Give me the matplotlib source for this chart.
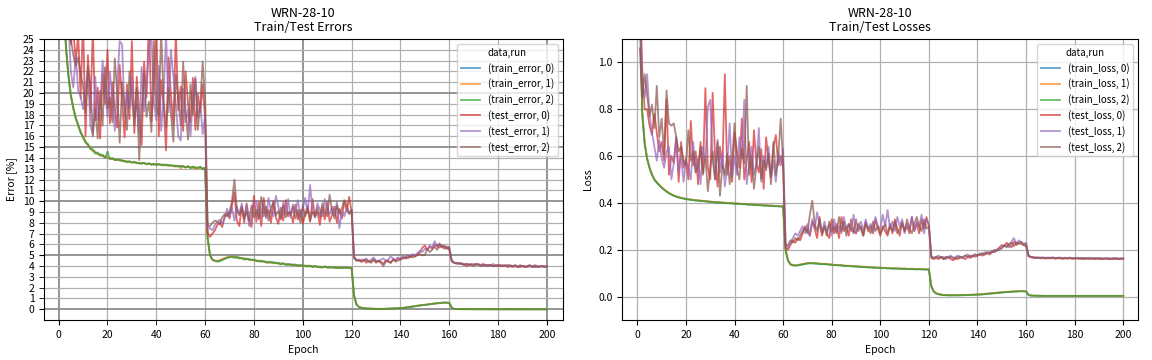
"""
WRN-28-10: ошибки и потери на train/test (3 запуска)
"""

import numpy as np
import matplotlib.pyplot as plt
from matplotlib.ticker import MultipleLocator, FormatStrFormatter

plt.rcParams["font.family"] = ["Noto Sans CJK JP", "DejaVu Sans"]
plt.rcParams["font.size"] = 7.5

# Ошибки, %  (эпохи 1..200)
train_error_0 = [
    46.0, 28.5, 24.2, 21.6, 19.8, 18.6, 17.7, 17.0, 16.4, 15.9, 15.5, 15.2, 14.9, 14.7, 14.5, 14.4, 14.3, 14.2, 14.1, 14.0,
    13.95, 13.9, 13.85, 13.8, 13.8, 13.75, 13.7, 13.65, 13.7, 13.6, 13.6, 13.55, 13.5, 13.55, 13.5, 13.45, 13.5, 13.4, 13.45, 13.4,
    13.4, 13.35, 13.4, 13.3, 13.35, 13.3, 13.25, 13.3, 13.2, 13.25, 13.2, 13.15, 13.2, 13.1, 13.15, 13.1, 13.05, 13.15, 13.0, 13.05,
    6.6, 5.0, 4.6, 4.5, 4.45, 4.5, 4.6, 4.7, 4.8, 4.85, 4.9, 4.85, 4.8, 4.8, 4.7, 4.7, 4.65, 4.6, 4.6, 4.55,
    4.5, 4.45, 4.5, 4.4, 4.35, 4.4, 4.3, 4.35, 4.3, 4.25, 4.2, 4.25, 4.15, 4.2, 4.1, 4.15, 4.1, 4.05, 4.1, 4.0,
    4.05, 4.0, 4.0, 3.95, 4.0, 3.9, 3.95, 3.9, 3.95, 3.85, 3.9, 3.85, 3.9, 3.85, 3.8, 3.85, 3.9, 3.85, 3.8, 3.85,
    1.3, 0.45, 0.22, 0.14, 0.1, 0.08, 0.06, 0.05, 0.05, 0.04, 0.04, 0.03, 0.04, 0.04, 0.05, 0.06, 0.07, 0.08, 0.1, 0.11,
    0.13, 0.15, 0.18, 0.22, 0.26, 0.3, 0.33, 0.36, 0.38, 0.4, 0.44, 0.47, 0.5, 0.53, 0.55, 0.58, 0.6, 0.62, 0.61, 0.6,
    0.15, 0.04, 0.02, 0.02, 0.01, 0.01, 0.01, 0.01, 0.01, 0.01, 0.01, 0.0, 0.01, 0.0, 0.0, 0.0, 0.0, 0.0, 0.0, 0.0,
    0.0, 0.0, 0.0, 0.0, 0.0, 0.0, 0.0, 0.0, 0.0, 0.0, 0.0, 0.0, 0.0, 0.0, 0.0, 0.0, 0.0, 0.0, 0.0, 0.0,
]
train_error_1 = [
    45.5, 28.8, 24.0, 21.8, 19.9, 18.5, 17.8, 16.9, 16.5, 15.8, 15.6, 15.1, 15.0, 14.6, 14.6, 14.3, 14.35, 14.15, 14.1, 14.05,
    13.9, 13.95, 13.8, 13.85, 13.75, 13.8, 13.65, 13.7, 13.6, 13.65, 13.55, 13.6, 13.45, 13.5, 13.55, 13.4, 13.45, 13.45, 13.35, 13.4,
    13.45, 13.3, 13.35, 13.35, 13.25, 13.35, 13.2, 13.25, 13.3, 13.0, 13.25, 13.1, 13.2, 13.15, 13.05, 13.2, 13.0, 13.1, 13.05, 13.0,
    6.5, 5.0, 4.55, 4.45, 4.5, 4.55, 4.65, 4.75, 4.8, 4.9, 4.85, 4.9, 4.75, 4.75, 4.75, 4.65, 4.7, 4.55, 4.6, 4.5,
    4.55, 4.4, 4.45, 4.45, 4.3, 4.35, 4.35, 4.25, 4.3, 4.2, 4.25, 4.2, 4.2, 4.1, 4.15, 4.1, 4.05, 4.1, 4.0, 4.05,
    4.0, 4.05, 3.95, 4.0, 3.95, 3.95, 3.85, 3.95, 3.9, 3.9, 3.85, 3.9, 3.8, 3.9, 3.85, 3.8, 3.85, 3.9, 3.85, 3.8,
    1.35, 0.48, 0.23, 0.15, 0.11, 0.08, 0.07, 0.05, 0.04, 0.05, 0.04, 0.04, 0.03, 0.05, 0.05, 0.06, 0.08, 0.09, 0.1, 0.12,
    0.14, 0.16, 0.19, 0.23, 0.27, 0.29, 0.34, 0.37, 0.39, 0.42, 0.45, 0.46, 0.51, 0.54, 0.57, 0.59, 0.61, 0.63, 0.6, 0.59,
    0.16, 0.04, 0.02, 0.01, 0.01, 0.01, 0.01, 0.01, 0.0, 0.01, 0.0, 0.01, 0.0, 0.0, 0.0, 0.0, 0.0, 0.0, 0.0, 0.0,
    0.0, 0.0, 0.0, 0.0, 0.0, 0.0, 0.0, 0.0, 0.0, 0.0, 0.0, 0.0, 0.0, 0.0, 0.0, 0.0, 0.0, 0.0, 0.0, 0.0,
]
train_error_2 = [
    46.5, 28.2, 24.4, 21.5, 19.7, 18.7, 17.6, 17.1, 16.3, 16.0, 15.4, 15.3, 14.8, 14.8, 14.4, 14.5, 14.2, 14.3, 14.0, 14.6,
    13.9, 14.0, 13.8, 13.85, 13.85, 13.7, 13.75, 13.6, 13.65, 13.55, 13.65, 13.5, 13.55, 13.45, 13.55, 13.4, 13.5, 13.35, 13.45, 13.35,
    13.4, 13.4, 13.3, 13.4, 13.3, 13.3, 13.3, 13.2, 13.25, 13.2, 13.25, 13.1, 13.25, 13.05, 13.2, 13.05, 13.1, 13.2, 12.95, 13.1,
    6.7, 5.05, 4.6, 4.5, 4.4, 4.45, 4.55, 4.65, 4.75, 4.8, 4.85, 4.75, 4.85, 4.7, 4.75, 4.6, 4.65, 4.65, 4.55, 4.6,
    4.45, 4.5, 4.4, 4.45, 4.4, 4.3, 4.4, 4.3, 4.25, 4.3, 4.15, 4.25, 4.1, 4.15, 4.15, 4.05, 4.15, 4.0, 4.05, 4.05,
    4.0, 3.95, 4.05, 3.9, 4.0, 3.95, 3.9, 3.85, 3.95, 3.9, 3.85, 3.9, 3.85, 3.8, 3.9, 3.85, 3.8, 3.85, 3.85, 3.8,
    1.25, 0.44, 0.21, 0.14, 0.1, 0.07, 0.06, 0.05, 0.04, 0.04, 0.03, 0.04, 0.04, 0.04, 0.05, 0.06, 0.07, 0.08, 0.09, 0.11,
    0.12, 0.15, 0.17, 0.21, 0.25, 0.29, 0.32, 0.35, 0.38, 0.41, 0.43, 0.48, 0.49, 0.52, 0.56, 0.57, 0.6, 0.61, 0.62, 0.61,
    0.14, 0.03, 0.02, 0.01, 0.01, 0.01, 0.01, 0.0, 0.01, 0.0, 0.0, 0.0, 0.0, 0.0, 0.0, 0.0, 0.0, 0.0, 0.0, 0.0,
    0.0, 0.0, 0.0, 0.0, 0.0, 0.0, 0.0, 0.0, 0.0, 0.0, 0.0, 0.0, 0.0, 0.0, 0.0, 0.0, 0.0, 0.0, 0.0, 0.0,
]
test_error_0 = [
    70.0, 45.0, 32.0, 27.0, 24.5, 26.0, 22.8, 25.5, 19.5, 27.0, 16.0, 23.5, 18.2, 26.0, 17.5, 20.5, 15.8, 21.8, 19.0, 24.0,
    17.2, 21.0, 18.5, 16.8, 22.6, 19.2, 15.9, 20.8, 17.6, 24.8, 16.3, 21.5, 18.0, 15.2, 22.9, 19.6, 27.0, 17.4, 20.3, 26.5,
    16.0, 21.2, 18.9, 14.7, 23.3, 19.8, 17.1, 25.6, 18.4, 20.6, 16.5, 22.0, 19.0, 17.3, 21.4, 16.6, 19.9, 18.2, 20.8, 17.6,
    7.1, 6.7, 7.0, 7.3, 7.8, 8.0, 7.6, 8.6, 8.9, 8.4, 9.6, 10.8, 8.2, 7.7, 9.5, 8.0, 9.8, 8.3, 7.6, 10.5,
    8.1, 9.9, 7.7, 10.3, 8.6, 9.2, 8.0, 10.0, 8.5, 7.9, 9.4, 8.2, 10.1, 8.6, 9.0, 8.0, 9.7, 8.3, 9.2, 7.9,
    8.8, 9.6, 8.1, 10.2, 8.5, 9.0, 7.8, 9.4, 8.3, 9.9, 8.1, 8.7, 9.5, 8.0, 9.3, 8.4, 10.0, 9.1, 10.4, 9.0,
    4.9, 4.5, 4.5, 4.4, 4.6, 4.3, 4.5, 4.4, 4.6, 4.3, 4.5, 4.4, 4.2, 4.5, 4.4, 4.3, 4.6, 4.5, 4.7, 4.6,
    4.8, 4.7, 4.9, 4.8, 5.0, 4.9, 5.1, 5.3, 5.7, 5.9, 5.5, 5.8, 5.6, 5.9, 6.0, 5.7, 5.9, 5.6, 5.8, 5.5,
    4.5, 4.3, 4.3, 4.2, 4.2, 4.2, 4.0, 4.1, 4.2, 4.1, 4.2, 4.1, 4.1, 4.2, 4.0, 4.1, 4.1, 4.0, 4.1, 4.0,
    4.1, 4.0, 4.0, 4.1, 4.0, 3.9, 4.0, 4.0, 3.9, 4.0, 4.0, 3.9, 4.0, 4.0, 3.9, 4.0, 3.9, 4.0, 3.9, 4.0,
]
test_error_1 = [
    68.0, 42.0, 30.0, 26.5, 22.0, 20.5, 23.5, 20.2, 19.7, 18.5, 20.5, 22.0, 17.0, 16.2, 21.5, 17.5, 18.8, 23.0, 20.4, 17.8,
    22.0, 19.5, 16.5, 20.8, 24.8, 24.5, 17.8, 20.2, 18.6, 21.5, 17.9, 19.0, 16.2, 22.4, 18.3, 20.6, 24.0, 25.5, 19.2, 17.5,
    22.5, 16.5, 19.8, 25.6, 18.2, 24.0, 21.5, 19.0, 16.0, 15.6, 20.4, 17.3, 18.5, 16.0, 19.5, 21.5, 17.8, 19.0, 16.2, 18.0,
    7.6, 7.5, 7.3, 7.8, 8.1, 8.3, 7.9, 8.4, 9.3, 8.6, 9.4, 8.2, 9.5, 8.8, 9.8, 8.5, 9.6, 7.7, 8.6, 9.9,
    10.0, 8.3, 9.0, 9.8, 8.4, 10.3, 9.1, 8.6, 10.5, 9.5, 8.4, 9.9, 8.8, 10.2, 8.5, 9.7, 9.0, 10.1, 8.6, 9.3,
    10.3, 8.9, 11.5, 9.0, 8.5, 9.8, 9.2, 8.6, 10.2, 9.1, 8.8, 9.5, 8.7, 9.9, 7.5, 9.0, 8.6, 9.3, 8.9, 9.2,
    4.8, 4.6, 4.5, 4.6, 4.5, 4.7, 4.4, 4.6, 4.8, 4.5, 4.4, 4.6, 4.7, 4.5, 4.6, 4.9, 4.7, 4.6, 4.8, 4.7,
    4.9, 4.8, 5.0, 4.9, 5.1, 5.0, 5.2, 5.4, 5.3, 5.6, 5.5, 5.9, 5.7, 6.3, 5.8, 6.0, 5.7, 5.8, 5.6, 5.7,
    4.6, 4.3, 4.3, 4.2, 4.3, 4.1, 4.2, 4.2, 4.1, 4.2, 4.1, 4.2, 4.1, 4.0, 4.1, 4.1, 4.0, 4.2, 4.0, 4.1,
    4.0, 4.1, 4.0, 4.0, 4.1, 4.0, 4.0, 3.9, 4.1, 4.0, 3.9, 4.0, 4.0, 3.9, 4.1, 4.0, 3.9, 4.0, 4.0, 3.9,
]
test_error_2 = [
    72.0, 47.0, 33.0, 28.0, 25.0, 23.5, 22.5, 23.3, 21.8, 20.6, 18.2, 22.5, 20.8, 16.0, 18.5, 15.8, 20.2, 17.0, 22.4, 18.6,
    19.6, 17.3, 23.2, 20.0, 15.4, 21.0, 18.7, 16.6, 22.0, 19.4, 17.1, 20.5, 13.8, 18.5, 21.8, 17.8, 19.2, 16.4, 24.8, 18.6,
    17.9, 25.8, 19.3, 16.8, 20.5, 18.1, 15.5, 21.7, 19.5, 17.0, 22.9, 18.4, 15.7, 20.8, 18.0, 21.3, 16.6, 19.0, 22.9, 19.5,
    7.8, 7.7, 8.0, 8.2, 8.1, 7.9, 8.5, 8.8, 8.6, 9.0, 10.0, 12.0, 9.2, 8.7, 9.4, 8.4, 9.0, 8.2, 9.6, 8.5,
    9.2, 8.4, 10.4, 8.6, 9.5, 8.2, 9.4, 9.9, 8.7, 9.1, 8.3, 9.6, 8.5, 9.0, 8.8, 9.5, 8.4, 9.2, 8.0, 9.6,
    8.6, 9.3, 8.2, 9.0, 8.7, 9.4, 8.5, 9.8, 9.0, 8.6, 10.6, 9.1, 8.4, 9.6, 8.9, 9.3, 10.1, 9.7, 8.8, 9.2,
    4.7, 4.5, 4.6, 4.4, 4.5, 4.6, 4.4, 4.3, 4.6, 4.4, 4.5, 4.3, 4.0, 4.4, 4.5, 4.3, 4.6, 4.4, 4.5, 4.6,
    4.7, 4.8, 4.7, 4.9, 4.8, 4.9, 5.0, 5.1, 5.0, 5.0, 5.6, 5.3, 5.5, 5.8, 5.5, 6.1, 5.8, 5.9, 5.6, 5.8,
    4.4, 4.3, 4.2, 4.3, 4.2, 4.1, 4.2, 4.1, 4.1, 4.0, 4.2, 4.1, 4.0, 4.1, 4.1, 4.0, 4.1, 4.0, 4.0, 4.1,
    4.0, 4.0, 4.1, 3.9, 4.0, 4.0, 4.1, 3.9, 4.0, 4.0, 3.9, 4.0, 4.1, 3.9, 4.0, 3.9, 4.0, 4.0, 3.9, 4.0,
]

# Потери (эпохи 1..200)
train_loss_0 = [
    1.25, 0.78, 0.655, 0.59, 0.55, 0.52, 0.50, 0.487, 0.476, 0.466, 0.457, 0.449, 0.442, 0.436, 0.431, 0.427, 0.424, 0.421, 0.419, 0.417,
    0.415, 0.414, 0.412, 0.411, 0.410, 0.409, 0.408, 0.407, 0.406, 0.405, 0.404, 0.403, 0.402, 0.402, 0.401, 0.400, 0.399, 0.399, 0.398, 0.397,
    0.397, 0.396, 0.395, 0.395, 0.394, 0.393, 0.393, 0.392, 0.391, 0.391, 0.390, 0.389, 0.389, 0.388, 0.388, 0.387, 0.386, 0.386, 0.385, 0.385,
    0.20, 0.155, 0.138, 0.134, 0.133, 0.134, 0.136, 0.138, 0.140, 0.142, 0.143, 0.142, 0.142, 0.141, 0.140, 0.139, 0.139, 0.138, 0.137, 0.136,
    0.135, 0.134, 0.134, 0.133, 0.132, 0.131, 0.131, 0.130, 0.129, 0.129, 0.128, 0.127, 0.127, 0.126, 0.125, 0.125, 0.124, 0.124, 0.123, 0.123,
    0.122, 0.122, 0.121, 0.121, 0.120, 0.120, 0.120, 0.119, 0.119, 0.119, 0.118, 0.118, 0.118, 0.117, 0.117, 0.117, 0.117, 0.116, 0.116, 0.116,
    0.045, 0.022, 0.014, 0.010, 0.008, 0.007, 0.006, 0.006, 0.006, 0.006, 0.006, 0.006, 0.006, 0.006, 0.007, 0.007, 0.007, 0.008, 0.008, 0.009,
    0.009, 0.010, 0.011, 0.012, 0.013, 0.014, 0.015, 0.016, 0.017, 0.018, 0.019, 0.020, 0.020, 0.021, 0.022, 0.022, 0.023, 0.023, 0.023, 0.022,
    0.008, 0.005, 0.004, 0.004, 0.004, 0.003, 0.003, 0.003, 0.003, 0.003, 0.003, 0.003, 0.003, 0.003, 0.003, 0.003, 0.003, 0.003, 0.003, 0.003,
    0.003, 0.003, 0.003, 0.003, 0.003, 0.003, 0.003, 0.003, 0.003, 0.003, 0.003, 0.003, 0.003, 0.003, 0.003, 0.003, 0.003, 0.003, 0.003, 0.003,
]
train_loss_1 = [
    1.24, 0.79, 0.66, 0.592, 0.552, 0.522, 0.501, 0.489, 0.477, 0.467, 0.458, 0.450, 0.443, 0.437, 0.432, 0.428, 0.425, 0.422, 0.420, 0.418,
    0.416, 0.415, 0.413, 0.412, 0.411, 0.410, 0.409, 0.408, 0.407, 0.406, 0.405, 0.404, 0.403, 0.403, 0.402, 0.401, 0.400, 0.400, 0.399, 0.398,
    0.398, 0.397, 0.396, 0.396, 0.395, 0.394, 0.394, 0.393, 0.392, 0.392, 0.391, 0.390, 0.390, 0.389, 0.389, 0.388, 0.387, 0.387, 0.386, 0.386,
    0.205, 0.157, 0.139, 0.135, 0.134, 0.135, 0.137, 0.139, 0.141, 0.143, 0.144, 0.143, 0.143, 0.142, 0.141, 0.140, 0.140, 0.139, 0.138, 0.137,
    0.136, 0.135, 0.135, 0.134, 0.133, 0.132, 0.132, 0.131, 0.130, 0.130, 0.129, 0.128, 0.128, 0.127, 0.126, 0.126, 0.125, 0.125, 0.124, 0.124,
    0.123, 0.123, 0.122, 0.122, 0.121, 0.121, 0.121, 0.120, 0.120, 0.120, 0.119, 0.119, 0.119, 0.118, 0.118, 0.118, 0.118, 0.117, 0.117, 0.117,
    0.047, 0.023, 0.015, 0.011, 0.009, 0.007, 0.007, 0.006, 0.006, 0.006, 0.006, 0.006, 0.006, 0.007, 0.007, 0.007, 0.008, 0.008, 0.009, 0.009,
    0.010, 0.011, 0.012, 0.013, 0.014, 0.015, 0.016, 0.017, 0.018, 0.019, 0.019, 0.020, 0.021, 0.022, 0.022, 0.023, 0.023, 0.024, 0.023, 0.022,
    0.009, 0.005, 0.004, 0.004, 0.004, 0.004, 0.003, 0.003, 0.003, 0.003, 0.003, 0.003, 0.003, 0.003, 0.003, 0.003, 0.003, 0.003, 0.003, 0.003,
    0.003, 0.003, 0.003, 0.003, 0.003, 0.003, 0.003, 0.003, 0.003, 0.003, 0.003, 0.003, 0.003, 0.003, 0.003, 0.003, 0.003, 0.003, 0.003, 0.003,
]
train_loss_2 = [
    1.26, 0.785, 0.65, 0.588, 0.549, 0.521, 0.499, 0.486, 0.475, 0.465, 0.456, 0.448, 0.441, 0.436, 0.430, 0.427, 0.423, 0.421, 0.418, 0.416,
    0.415, 0.413, 0.412, 0.410, 0.410, 0.408, 0.408, 0.406, 0.406, 0.404, 0.404, 0.402, 0.402, 0.401, 0.401, 0.399, 0.399, 0.398, 0.398, 0.396,
    0.397, 0.395, 0.395, 0.394, 0.394, 0.392, 0.393, 0.391, 0.391, 0.390, 0.390, 0.388, 0.389, 0.387, 0.388, 0.386, 0.386, 0.385, 0.385, 0.384,
    0.195, 0.153, 0.137, 0.133, 0.132, 0.133, 0.135, 0.137, 0.139, 0.141, 0.142, 0.142, 0.141, 0.141, 0.139, 0.139, 0.138, 0.138, 0.136, 0.136,
    0.134, 0.134, 0.133, 0.133, 0.131, 0.131, 0.130, 0.130, 0.128, 0.129, 0.127, 0.127, 0.126, 0.126, 0.124, 0.125, 0.123, 0.124, 0.122, 0.123,
    0.121, 0.122, 0.120, 0.121, 0.119, 0.120, 0.119, 0.119, 0.118, 0.119, 0.117, 0.118, 0.117, 0.117, 0.116, 0.117, 0.116, 0.116, 0.115, 0.116,
    0.043, 0.021, 0.013, 0.010, 0.008, 0.006, 0.006, 0.005, 0.005, 0.005, 0.005, 0.005, 0.006, 0.006, 0.006, 0.007, 0.007, 0.007, 0.008, 0.008,
    0.009, 0.009, 0.010, 0.011, 0.012, 0.013, 0.014, 0.015, 0.016, 0.017, 0.018, 0.019, 0.020, 0.020, 0.021, 0.022, 0.022, 0.023, 0.022, 0.022,
    0.007, 0.004, 0.004, 0.003, 0.003, 0.003, 0.003, 0.003, 0.003, 0.003, 0.003, 0.003, 0.003, 0.003, 0.003, 0.003, 0.003, 0.003, 0.003, 0.003,
    0.003, 0.003, 0.003, 0.003, 0.003, 0.003, 0.003, 0.003, 0.003, 0.003, 0.003, 0.003, 0.003, 0.003, 0.003, 0.003, 0.003, 0.003, 0.003, 0.003,
]
test_loss_0 = [
    1.35, 0.97, 0.80, 0.80, 0.73, 0.69, 0.78, 0.70, 0.62, 0.66, 0.58, 0.84, 0.52, 0.60, 0.57, 0.68, 0.49, 0.66, 0.55, 0.59,
    0.50, 0.75, 0.56, 0.62, 0.48, 0.66, 0.53, 0.89, 0.55, 0.50, 0.87, 0.59, 0.47, 0.64, 0.55, 0.95, 0.52, 0.60, 0.49, 0.70,
    0.62, 0.55, 0.76, 0.50, 0.58, 0.66, 0.49, 0.71, 0.57, 0.53, 0.63, 0.46, 0.68, 0.58, 0.51, 0.64, 0.69, 0.56, 0.60, 0.55,
    0.21, 0.20, 0.22, 0.24, 0.23, 0.25, 0.24, 0.27, 0.30, 0.28, 0.26, 0.32, 0.29, 0.25, 0.34, 0.26, 0.30, 0.27, 0.25, 0.33,
    0.27, 0.31, 0.25, 0.34, 0.28, 0.30, 0.26, 0.33, 0.28, 0.27, 0.31, 0.29, 0.26, 0.32, 0.28, 0.30, 0.27, 0.33, 0.29, 0.26,
    0.30, 0.28, 0.26, 0.31, 0.27, 0.33, 0.29, 0.26, 0.32, 0.28, 0.30, 0.27, 0.34, 0.28, 0.31, 0.27, 0.33, 0.29, 0.34, 0.30,
    0.165, 0.16, 0.165, 0.16, 0.17, 0.16, 0.165, 0.17, 0.16, 0.155, 0.165, 0.16, 0.17, 0.165, 0.16, 0.17, 0.165, 0.175, 0.17, 0.175,
    0.18, 0.175, 0.18, 0.185, 0.18, 0.19, 0.19, 0.20, 0.21, 0.22, 0.215, 0.23, 0.22, 0.21, 0.235, 0.22, 0.23, 0.225, 0.22, 0.215,
    0.172, 0.168, 0.166, 0.164, 0.166, 0.163, 0.165, 0.162, 0.164, 0.163, 0.165, 0.162, 0.163, 0.164, 0.161, 0.163, 0.162, 0.164, 0.161, 0.162,
    0.163, 0.161, 0.162, 0.160, 0.162, 0.161, 0.163, 0.160, 0.161, 0.162, 0.160, 0.161, 0.162, 0.160, 0.161, 0.160, 0.162, 0.160, 0.161, 0.160,
]
test_loss_1 = [
    1.25, 0.92, 0.85, 0.95, 0.78, 0.70, 0.64, 0.58, 0.67, 0.59, 0.55, 0.62, 0.64, 0.50, 0.57, 0.68, 0.53, 0.60, 0.49, 0.58,
    0.55, 0.50, 0.66, 0.53, 0.59, 0.48, 0.64, 0.57, 0.81, 0.84, 0.58, 0.50, 0.67, 0.53, 0.62, 0.47, 0.56, 0.74, 0.51, 0.60,
    0.52, 0.68, 0.59, 0.84, 0.48, 0.56, 0.64, 0.52, 0.57, 0.72, 0.49, 0.60, 0.55, 0.64, 0.51, 0.58, 0.49, 0.62, 0.56, 0.63,
    0.22, 0.21, 0.23, 0.25, 0.27, 0.26, 0.28, 0.30, 0.27, 0.31, 0.26, 0.33, 0.29, 0.36, 0.30, 0.27, 0.32, 0.28, 0.31, 0.26,
    0.33, 0.28, 0.30, 0.27, 0.34, 0.29, 0.31, 0.28, 0.35, 0.27, 0.30, 0.32, 0.28, 0.33, 0.29, 0.31, 0.28, 0.34, 0.30, 0.29,
    0.35, 0.30, 0.37, 0.29, 0.32, 0.28, 0.34, 0.30, 0.33, 0.27, 0.31, 0.29, 0.34, 0.28, 0.32, 0.30, 0.35, 0.27, 0.33, 0.31,
    0.17, 0.165, 0.17, 0.175, 0.165, 0.17, 0.16, 0.17, 0.175, 0.165, 0.17, 0.175, 0.17, 0.165, 0.175, 0.18, 0.17, 0.175, 0.18, 0.175,
    0.185, 0.18, 0.19, 0.185, 0.19, 0.195, 0.19, 0.20, 0.205, 0.21, 0.215, 0.22, 0.21, 0.235, 0.25, 0.225, 0.24, 0.23, 0.225, 0.23,
    0.176, 0.170, 0.169, 0.167, 0.168, 0.166, 0.168, 0.165, 0.167, 0.166, 0.168, 0.165, 0.166, 0.167, 0.165, 0.166, 0.165, 0.167, 0.164, 0.165,
    0.166, 0.164, 0.166, 0.165, 0.164, 0.166, 0.164, 0.165, 0.163, 0.165, 0.164, 0.163, 0.165, 0.164, 0.163, 0.164, 0.165, 0.163, 0.164, 0.164,
]
test_loss_2 = [
    1.06, 0.85, 0.95, 0.86, 0.77, 0.82, 0.72, 0.90, 0.68, 0.76, 0.61, 0.88, 0.74, 0.73, 0.74, 0.68, 0.62, 0.64, 0.58, 0.56,
    0.71, 0.58, 0.62, 0.53, 0.56, 0.64, 0.52, 0.60, 0.45, 0.55, 0.62, 0.50, 0.66, 0.43, 0.56, 0.52, 0.61, 0.48, 0.58, 0.74,
    0.55, 0.50, 0.63, 0.57, 0.90, 0.52, 0.60, 0.46, 0.56, 0.64, 0.50, 0.58, 0.54, 0.61, 0.48, 0.66, 0.52, 0.60, 0.76, 0.57,
    0.22, 0.22, 0.24, 0.23, 0.25, 0.24, 0.26, 0.28, 0.29, 0.27, 0.35, 0.41, 0.31, 0.28, 0.33, 0.27, 0.30, 0.26, 0.32, 0.28,
    0.30, 0.27, 0.34, 0.28, 0.32, 0.26, 0.31, 0.29, 0.27, 0.33, 0.28, 0.30, 0.26, 0.31, 0.29, 0.27, 0.32, 0.28, 0.30, 0.27,
    0.29, 0.31, 0.27, 0.30, 0.28, 0.32, 0.27, 0.29, 0.31, 0.28, 0.33, 0.29, 0.27, 0.31, 0.34, 0.30, 0.28, 0.33, 0.29, 0.30,
    0.17, 0.165, 0.17, 0.165, 0.17, 0.16, 0.17, 0.165, 0.17, 0.165, 0.16, 0.17, 0.165, 0.17, 0.175, 0.17, 0.175, 0.17, 0.18, 0.175,
    0.18, 0.185, 0.18, 0.19, 0.185, 0.19, 0.20, 0.195, 0.20, 0.205, 0.22, 0.21, 0.225, 0.23, 0.215, 0.23, 0.225, 0.235, 0.22, 0.225,
    0.174, 0.169, 0.167, 0.166, 0.165, 0.166, 0.164, 0.166, 0.165, 0.164, 0.165, 0.163, 0.165, 0.164, 0.163, 0.165, 0.163, 0.164, 0.163, 0.164,
    0.163, 0.164, 0.162, 0.163, 0.164, 0.162, 0.163, 0.162, 0.164, 0.162, 0.163, 0.161, 0.163, 0.162, 0.161, 0.163, 0.162, 0.161, 0.162, 0.162,
]

error_series = [
    ("(train_error, 0)", train_error_0),
    ("(train_error, 1)", train_error_1),
    ("(train_error, 2)", train_error_2),
    ("(test_error, 0)", test_error_0),
    ("(test_error, 1)", test_error_1),
    ("(test_error, 2)", test_error_2),
]
loss_series = [
    ("(train_loss, 0)", train_loss_0),
    ("(train_loss, 1)", train_loss_1),
    ("(train_loss, 2)", train_loss_2),
    ("(test_loss, 0)", test_loss_0),
    ("(test_loss, 1)", test_loss_1),
    ("(test_loss, 2)", test_loss_2),
]
colors = ["tab:blue", "tab:orange", "tab:green", "tab:red", "tab:purple", "tab:brown"]

fig = plt.figure(figsize=(11.52, 3.6), dpi=100)
ax1 = fig.add_axes([0.0382, 0.1111, 0.4503, 0.7806])
ax2 = fig.add_axes([0.5402, 0.1111, 0.4479, 0.7806])

# 1. Ошибки
for (name, s), c in zip(error_series, colors):
    ax1.plot(np.arange(1, len(s) + 1), s, color=c, alpha=0.7, lw=1.3, label=name)
ax1.set_xlim(-6, 206.5)
ax1.set_ylim(-0.99, 25)
ax1.xaxis.set_major_locator(MultipleLocator(100))
ax1.xaxis.set_minor_locator(MultipleLocator(20))
ax1.xaxis.set_minor_formatter(FormatStrFormatter("%d"))
ax1.yaxis.set_major_locator(MultipleLocator(5))
ax1.yaxis.set_minor_locator(MultipleLocator(1))
ax1.yaxis.set_minor_formatter(FormatStrFormatter("%d"))
ax1.tick_params(which="minor", length=3.5)
ax1.grid(which="major", color="#8c8c8c", lw=1.3)
ax1.grid(which="minor", color="#b0b0b0", lw=0.9)
ax1.set_xlabel("Epoch")
ax1.set_ylabel("Error [%]")
ax1.set_title("WRN-28-10\nTrain/Test Errors", fontsize=9, linespacing=1.1)
ax1.legend(title="data,run", loc="upper right", fontsize=7, title_fontsize=7)

# 2. Потери
for (name, s), c in zip(loss_series, colors):
    ax2.plot(np.arange(1, len(s) + 1), s, color=c, alpha=0.7, lw=1.3, label=name)
ax2.set_xlim(-6.2, 206.2)
ax2.set_ylim(-0.1, 1.1)
ax2.xaxis.set_major_locator(MultipleLocator(20))
ax2.yaxis.set_major_locator(MultipleLocator(0.2))
ax2.grid(True, color="#b0b0b0", lw=0.9)
ax2.set_xlabel("Epoch")
ax2.set_ylabel("Loss")
ax2.set_title("WRN-28-10\nTrain/Test Losses", fontsize=9, linespacing=1.1)
ax2.legend(title="data,run", loc="upper right", fontsize=7, title_fontsize=7)

plt.savefig("out.png", dpi=100)
